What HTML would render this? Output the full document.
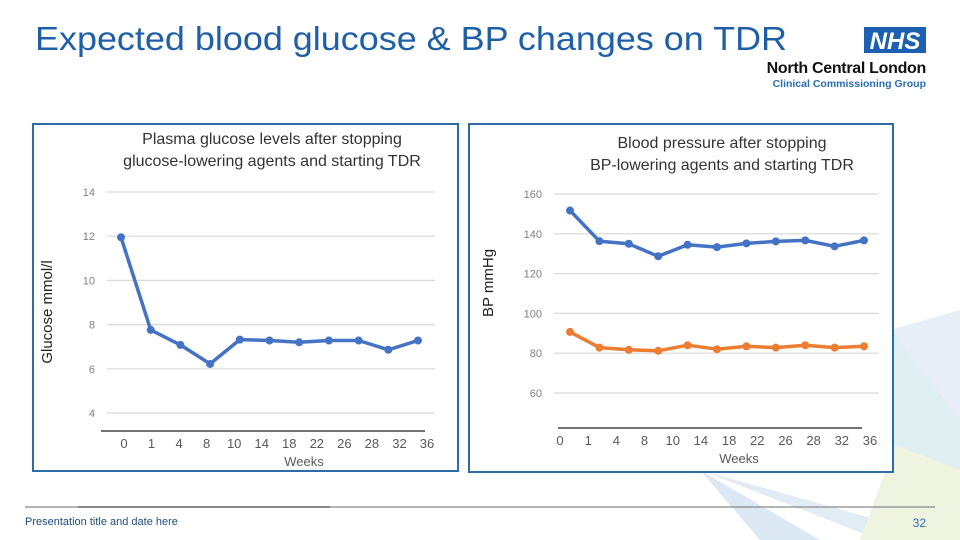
<!DOCTYPE html>
<html><head><meta charset="utf-8">
<style>
html,body{margin:0;padding:0;background:#fff;}
body{width:960px;height:540px;position:relative;overflow:hidden;font-family:"Liberation Sans",sans-serif;}
svg{position:absolute;left:0;top:0;}
</style></head>
<body>
<svg id="s" width="960" height="540" viewBox="0 0 960 540" xmlns="http://www.w3.org/2000/svg">
  <g>
    <polygon points="860,320 960,360 960,540 900,540" fill="#dfeff2"/>
    <polygon points="890,330 960,310 960,420" fill="#e8eef5"/>
    <polygon points="700,470 820,540 760,540" fill="#dce8f3"/>
    <polygon points="700,470 950,540 880,540" fill="#e2ecf5"/>
    <polygon points="895,445 960,470 960,540 860,540" fill="#eef4e0"/>
  </g>
  <text x="35" y="50" font-size="33" fill="#1f5fa8" textLength="752" lengthAdjust="spacingAndGlyphs">Expected blood glucose &amp; BP changes on TDR</text>
  <g>
    <rect x="864" y="27" width="62" height="26" fill="#1d5fb0"/>
    <text x="895" y="49" font-size="24" font-weight="bold" font-style="italic" fill="#fff" text-anchor="middle">NHS</text>
    <text x="926" y="73" font-size="16" font-weight="bold" fill="#111" text-anchor="end" letter-spacing="-0.3">North Central London</text>
    <text x="926" y="87" font-size="10.5" font-weight="bold" fill="#2a6db0" text-anchor="end">Clinical Commissioning Group</text>
  </g>
  <g id="c1"></g>
  <g id="c2"></g>
  <g>
    <line x1="25" y1="507" x2="935" y2="507" stroke="#888" stroke-width="1.2"/>
    <line x1="78" y1="507" x2="330" y2="507" stroke="#888" stroke-width="2"/>
    <text x="25" y="525" font-size="11" fill="#1f4e79">Presentation title and date here</text>
    <text x="926" y="527" font-size="12" fill="#2a6db0" text-anchor="end">32</text>
  </g>
</svg>
<script>
const weekLabels = ["0","1","4","8","10","14","18","22","26","28","32","36"];
const glucoseValues = [11.95, 7.76, 7.08, 6.22, 7.32, 7.28, 7.2, 7.28, 7.28, 6.86, 7.28];
const glucoseTicks = [4, 6, 8, 10, 12, 14];
const systolicValues = [151.7, 136.3, 135, 128.7, 134.5, 133.3, 135.2, 136.2, 136.7, 133.7, 136.7];
const diastolicValues = [90.7, 82.8, 81.7, 81.2, 84, 82, 83.5, 82.8, 84, 82.8, 83.5];
const bpTicks = [60, 80, 100, 120, 140, 160];

const NS = "http://www.w3.org/2000/svg";
function mk(parent, tag, attrs, text){
  const e = document.createElementNS(NS, tag);
  for (const k in attrs) e.setAttribute(k, attrs[k]);
  if (text !== undefined) e.textContent = text;
  parent.appendChild(e);
  return e;
}
const FONT = '"Liberation Sans", sans-serif';

function drawChart(g, cfg){
  const frame = mk(g, 'rect', {x:cfg.box[0], y:cfg.box[1], width:cfg.box[2], height:cfg.box[3], fill:'#fff', stroke:'#2e6ca8', 'stroke-width':2});
  
  
  cfg.title.forEach((t,i)=>{
    const e = mk(g,'text',{x:cfg.titleX, y:cfg.titleY+i*22, 'font-size':16, fill:'#333','text-anchor':'middle','font-family':FONT}, t);
    
    
  });
  const y = v => cfg.y0 - (v - cfg.vmin) / (cfg.vmax - cfg.vmin) * (cfg.y0 - cfg.y1);
  cfg.ticks.forEach(t=>{
    const gl = mk(g,'line',{x1:cfg.gx0, x2:cfg.gx1, y1:y(t), y2:y(t), stroke:'#d9d9d9','stroke-width':1.2});
    
    
    const tl = mk(g,'text',{x:cfg.tickX, y:y(t)+4, 'font-size':11, fill:'#7f7f7f','text-anchor':'end','font-family':FONT}, String(t));
    
    
  });
  const ax = mk(g,'line',{x1:cfg.ax0, x2:cfg.ax1, y1:cfg.axY, y2:cfg.axY, stroke:'#222','stroke-width':1.3});
  
  
  const nL = weekLabels.length;
  weekLabels.forEach((l,i)=>{
    const lx = cfg.lx0 + i*(cfg.lx1-cfg.lx0)/(nL-1);
    const e = mk(g,'text',{x:lx, y:cfg.axY+17, 'font-size':13, fill:'#595959','text-anchor':'middle','font-family':FONT}, l);
    
    
  });
  const wt = mk(g,'text',{x:cfg.weeksX, y:cfg.axY+35, 'font-size':13, fill:'#595959','text-anchor':'middle','font-family':FONT}, 'Weeks');
  
  
  const yt = mk(g,'text',{x:0, y:0, 'font-size':15, fill:'#222','text-anchor':'middle','font-family':FONT, transform:`translate(${cfg.ytX},${cfg.ytY}) rotate(-90)`}, cfg.yTitle);
  
  
  cfg.series.forEach(s=>{
    const n = s.values.length;
    const xs = i => cfg.px0 + i*(cfg.px1-cfg.px0)/(n-1);
    const pts = s.values.map((v,i)=>xs(i).toFixed(1)+','+y(v).toFixed(1)).join(' ');
    const pl = mk(g,'polyline',{points:pts, fill:'none', stroke:s.color,'stroke-width':3.5,'stroke-linejoin':'round'});
    
    
    s.values.forEach((v,i)=>{
      const c = mk(g,'circle',{cx:xs(i), cy:y(v), r:4, fill:s.color});
      
      
    });
  });
}

drawChart(document.getElementById('c1'), {
  box:[33,124,425,347], title:['Plasma glucose levels after stopping','glucose-lowering agents and starting TDR'],
  titleX:272, titleY:144, vmin:4, vmax:14, y0:413, y1:192, ticks:glucoseTicks,
  gx0:107, gx1:435, tickX:95, ax0:101, ax1:425, axY:431, lx0:124, lx1:427, weeksX:304,
  ytX:52, ytY:312, yTitle:'Glucose mmol/l', px0:121, px1:418,
  series:[{name:'glucose', values:glucoseValues, color:'#4472c4'}]
});
drawChart(document.getElementById('c2'), {
  box:[469,124,424,348], title:['Blood pressure after stopping','BP-lowering agents and starting TDR'],
  titleX:722, titleY:148, vmin:60, vmax:160, y0:393, y1:194, ticks:bpTicks,
  gx0:554, gx1:879, tickX:542, ax0:558, ax1:862, axY:428, lx0:560, lx1:870, weeksX:739,
  ytX:493, ytY:283, yTitle:'BP mmHg', px0:570, px1:864,
  series:[{name:'systolic', values:systolicValues, color:'#4472c4'},{name:'diastolic', values:diastolicValues, color:'#ed7d31'}]
});
</script>
</body></html>
